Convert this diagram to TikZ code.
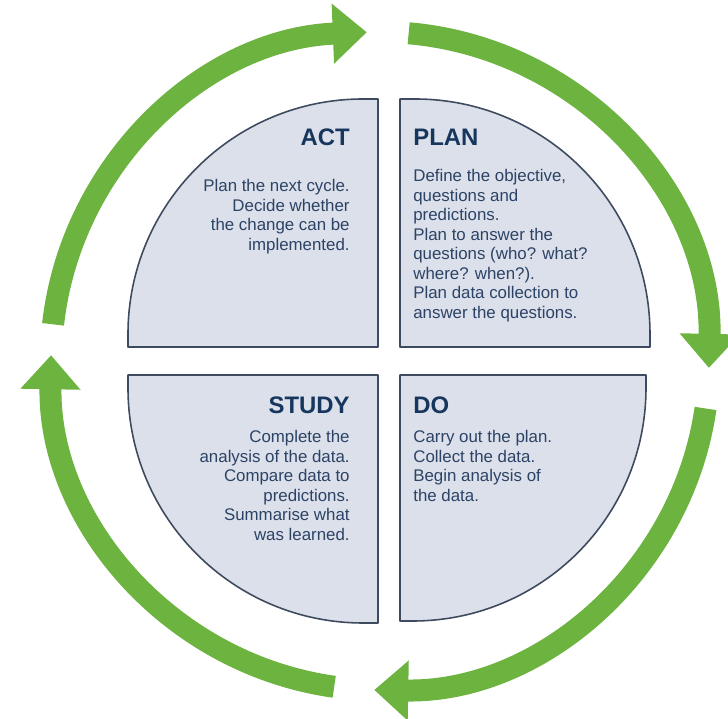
\documentclass[tikz,border=0pt]{standalone}
\usepackage{fontspec}
\setmainfont{Liberation Sans}
\usepackage{xcolor}
\usetikzlibrary{arrows.meta}
\definecolor{bg}{HTML}{FFFFFF}
\definecolor{quadbg}{HTML}{DCE0EA}
\definecolor{edge}{HTML}{3E4A5E}
\definecolor{navy}{HTML}{17365D}
\definecolor{bodytext}{HTML}{2C4366}
\definecolor{leaf}{HTML}{6DB33F}
\tikzset{
  quad/.style={draw=edge, fill=quadbg, line width=0.9pt, line join=round},
  ring/.style={draw=leaf, line width=0.44cm, -{Triangle[width=1.16cm,length=0.68cm]}},
  ttl/.style={text=navy, font=\fontsize{13.6}{16}\selectfont\bfseries, inner sep=0pt},
  txt/.style={text=bodytext, font=\fontsize{9.6}{11.1}\selectfont, inner sep=0pt},
}

\begin{document}
\begin{tikzpicture}[x=0.02cm, y=0.02cm]
  \useasboundingbox[fill=bg] (-389,-358) rectangle (339,361);
  \coordinate (hub) at (-9,0);

  % the four quarters
  \draw[quad] (-11,14) -- (-11,262) -- (-26,262) arc[start angle=90, end angle=180, radius=235] -- (-261,14) -- cycle;
  \draw[quad] (11,14) -- (11,262) -- (26,262) arc[start angle=90, end angle=0, radius=235] -- (261,14) -- cycle;
  \draw[quad] (-11,-14) -- (-11,-262) -- (-26,-262) arc[start angle=270, end angle=180, radius=235] -- (-261,-14) -- cycle;
  \draw[quad] (11,-14) -- (11,-260) -- (24,-260) arc[start angle=270, end angle=360, radius=233] -- (257,-14) -- cycle;

  % cycle arrows
  \foreach \a/\b in {173.6/92.3, 85/-1.2, -8.3/-91, -98/-181}
    \draw[ring] (hub) ++(\a:329) arc[start angle=\a, end angle=\b, radius=329];

  \node[ttl, anchor=east] (act) at (-39,224) {ACT};
  \node[txt, anchor=north east, align=right] (actbody) at (-39,182)
    {Plan the next cycle.\\Decide whether\\the change can be\\implemented.};

  \node[ttl, anchor=west] (plan) at (24,224) {PLAN};
  \node[txt, anchor=north west, align=left] (planbody) at (24,192)
    {Define the objective,\\questions and\\predictions.\\Plan to answer the\\questions (who? what?\\where? when?).\\Plan data collection to\\answer the questions.};

  \node[ttl, anchor=east] (study) at (-39,-44) {STUDY};
  \node[txt, anchor=north east, align=right] (studybody) at (-39,-69)
    {Complete the\\analysis of the data.\\Compare data to\\predictions.\\Summarise what\\was learned.};

  \node[ttl, anchor=west] (do) at (24,-44) {DO};
  \node[txt, anchor=north west, align=left] (dobody) at (24,-69)
    {Carry out the plan.\\Collect the data.\\Begin analysis of\\the data.};
\end{tikzpicture}
\end{document}
